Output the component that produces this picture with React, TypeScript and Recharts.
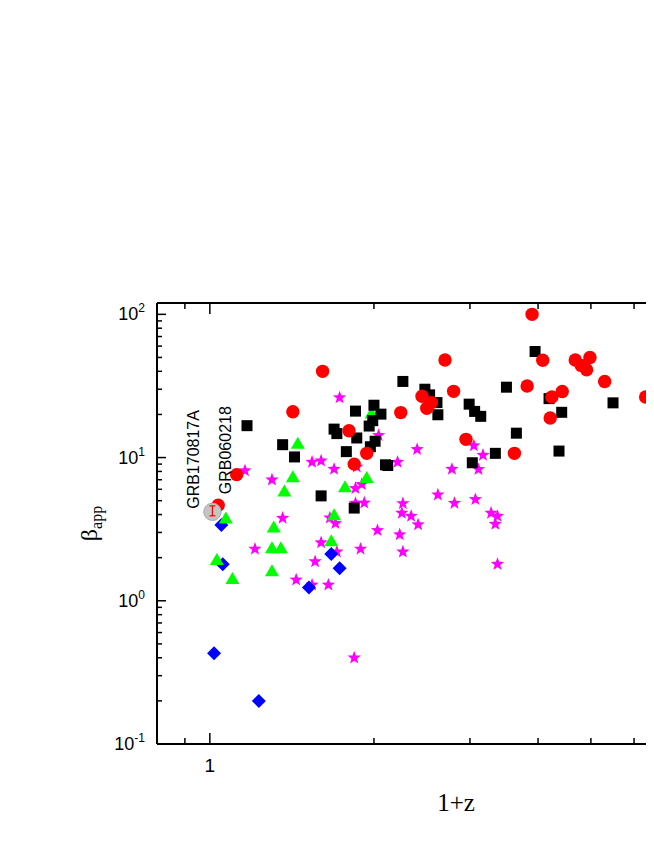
import { ScatterChart, Scatter, XAxis, YAxis, ErrorBar, ReferenceDot } from "recharts";

// [1+z, beta_app]
const redCircles: [number, number][] = [
  [3.9, 100], [1.61, 40], [2.7, 48], [4.08, 47.8], [4.68, 48], [4.8, 44], [4.91, 41],
  [4.98, 50], [5.3, 34], [6.3, 26.5], [2.8, 29], [3.82, 31.6], [4.24, 26.5], [4.43, 28.9],
  [4.21, 18.9], [2.45, 26.8], [2.55, 24.2], [2.5, 22.1], [1.42, 20.9], [2.24, 20.6],
  [1.8, 15.4], [2.95, 13.4], [1.94, 10.7], [3.62, 10.7], [1.84, 9.0], [1.12, 7.6], [1.036, 4.65],
];

const blackSquares: [number, number][] = [
  [3.95, 55], [2.26, 34], [3.5, 31], [2.48, 30], [2.53, 27.4], [2.61, 24.2], [2.62, 19.9],
  [4.19, 25.8], [5.49, 24.1], [4.42, 20.7], [2.99, 23.6], [3.06, 21.0], [3.14, 19.4],
  [2.0, 23.2], [1.85, 21.1], [2.06, 20.1], [1.99, 18.1], [1.96, 16.6], [1.17, 16.7],
  [1.69, 15.8], [1.71, 14.7], [1.86, 13.7], [2.01, 13.0], [1.97, 11.9], [3.65, 14.8],
  [1.36, 12.3], [1.78, 11.0], [1.43, 10.1], [4.37, 11.1], [3.34, 10.7], [3.03, 9.2],
  [2.1, 8.9], [2.12, 8.8], [1.6, 5.4], [1.84, 4.44],
];

const greenTriangles: [number, number][] = [
  [1.45, 12.5], [1.98, 20.3], [1.42, 7.3], [1.37, 5.8], [1.77, 6.2], [1.94, 7.2],
  [1.07, 3.75], [1.69, 3.95], [1.31, 3.25], [1.3, 2.33], [1.35, 2.33], [1.67, 2.6],
  [1.03, 1.93], [1.3, 1.61], [1.1, 1.42],
];

const blueDiamonds: [number, number][] = [
  [1.05, 3.38], [1.056, 1.8], [1.67, 2.12], [1.73, 1.69], [1.52, 1.24], [1.018, 0.43], [1.23, 0.2],
];

const magentaStars: [number, number][] = [
  [1.73, 26.2], [2.04, 14.3], [2.4, 11.4], [3.05, 12.1], [3.17, 10.4], [2.21, 9.3],
  [1.54, 9.3], [1.6, 9.5], [1.69, 8.3], [2.78, 8.3], [3.11, 8.27], [1.86, 8.6], [1.16, 8.1],
  [1.3, 7.0], [1.85, 6.1], [1.9, 6.5], [1.85, 4.8], [1.92, 4.83], [2.62, 5.5], [2.81, 4.8],
  [3.07, 5.1], [2.26, 4.78], [2.25, 4.1], [2.34, 3.9], [2.41, 3.4], [3.28, 4.1], [3.37, 3.9],
  [3.34, 3.43], [3.37, 1.8], [2.03, 3.1], [2.23, 2.9], [2.26, 2.2], [1.89, 2.3], [1.71, 2.2],
  [1.6, 2.55], [1.56, 1.88], [1.36, 3.78], [1.21, 2.3], [1.44, 1.4], [1.54, 1.29],
  [1.65, 1.29], [1.7, 3.47], [1.84, 0.4], [1.66, 3.8],
];

// GRB170817A with its error bar [minus, plus]
const grb170817a = [{ x: 1.011, y: 4.18, err: [0.26, 0.42] }];
const grb060218 = { x: 1.036, y: 4.65 };

const xTicks = [0.9, 1, 2, 3, 4, 5, 6, 7, 8, 9, 10];
const xLabelled = [1];
const yTicks = [
  0.1, 0.2, 0.3, 0.4, 0.5, 0.6, 0.7, 0.8, 0.9,
  1, 2, 3, 4, 5, 6, 7, 8, 9,
  10, 20, 30, 40, 50, 60, 70, 80, 90, 100,
];
const yMajor = [0.1, 1, 10, 100];

const rows = (pts: [number, number][]) => pts.map(([x, y]) => ({ x, y }));

const sans = "'Liberation Sans', Arial, sans-serif";
const serif = "'Liberation Serif', 'Times New Roman', serif";

const Circle = (p: any) => <circle cx={p.cx} cy={p.cy} r={6.7} fill="#ff0000" />;
const Square = (p: any) => <rect x={p.cx - 5.5} y={p.cy - 5.5} width={11} height={11} fill="#000" />;
const Triangle = (p: any) => (
  <polygon points={`${p.cx},${p.cy - 7} ${p.cx - 7},${p.cy + 5} ${p.cx + 7},${p.cy + 5}`} fill="#00ff00" />
);
const Diamond = (p: any) => (
  <polygon
    points={`${p.cx},${p.cy - 7} ${p.cx + 7},${p.cy} ${p.cx},${p.cy + 7} ${p.cx - 7},${p.cy}`}
    fill="#0000ff"
  />
);
const Star = (p: any) => {
  const pts: string[] = [];
  for (let i = 0; i < 10; i++) {
    const r = i % 2 === 0 ? 7 : 2.9;
    const a = -Math.PI / 2 + (i * Math.PI) / 5;
    pts.push(`${p.cx + r * Math.cos(a)},${p.cy + r * Math.sin(a)}`);
  }
  return <polygon points={pts.join(" ")} fill="#ff00ff" />;
};
const Gray = (p: any) => <circle cx={p.cx} cy={p.cy} r={8.7} fill="#c4c4c4" stroke="#aaaaaa" strokeWidth={1} />;

const BottomTick = (p: any) => {
  const v = p.payload.value;
  const major = v === 1 || v === 10;
  return (
    <g>
      <line x1={p.x} x2={p.x} y1={p.y} y2={p.y - (major ? 11 : 6)} stroke="#000" strokeWidth={1.5} />
      {xLabelled.includes(v) && (
        <text x={p.x} y={p.y + 28} textAnchor="middle" fontFamily={sans} fontSize={19} fill="#000">
          {v}
        </text>
      )}
    </g>
  );
};

const TopTick = (p: any) => {
  const major = p.payload.value === 1 || p.payload.value === 10;
  return <line x1={p.x} x2={p.x} y1={p.y} y2={p.y + (major ? 11 : 6)} stroke="#000" strokeWidth={1.5} />;
};

const LeftTick = (p: any) => {
  const v = p.payload.value;
  const major = yMajor.includes(v);
  const exp = Math.round(Math.log10(v));
  return (
    <g>
      <line x1={p.x} x2={p.x + (major ? 9 : 5)} y1={p.y} y2={p.y} stroke="#000" strokeWidth={1.5} />
      {major && (
        <text x={p.x - 12} y={p.y + 6} textAnchor="end" fontFamily={sans} fontSize={18} fill="#000">
          10
          <tspan dy={-8} fontSize={12}>
            {exp}
          </tspan>
        </text>
      )}
    </g>
  );
};

const RightTick = (p: any) => {
  const major = yMajor.includes(p.payload.value);
  return <line x1={p.x} x2={p.x - (major ? 9 : 5)} y1={p.y} y2={p.y} stroke="#000" strokeWidth={1.5} />;
};

const YLabel = (p: any) => {
  const vb = p.viewBox;
  const x = vb.x;
  const cy = vb.y + vb.height / 2;
  return (
    <text
      x={x}
      y={cy}
      transform={`rotate(-90 ${x} ${cy})`}
      textAnchor="middle"
      fontFamily={serif}
      fontSize={24}
      fill="#000"
    >
      β
      <tspan dy={5} fontSize={16}>
        app
      </tspan>
    </text>
  );
};

const XLabel = (p: any) => {
  const vb = p.viewBox;
  return (
    <text x={vb.x + vb.width / 2} y={vb.y + 67} textAnchor="middle" fontFamily={serif} fontSize={25} fill="#000">
      1+z
    </text>
  );
};

const rotatedText = (label: string, dx: number, dy: number) => (p: any) => {
  const x = p.cx + dx;
  const y = p.cy + dy;
  return (
    <text x={x} y={y} transform={`rotate(-90 ${x} ${y})`} fontFamily={sans} fontSize={16} fill="#000">
      {label}
    </text>
  );
};

export default function App() {
  const axisLine = { stroke: "#000", strokeWidth: 2 };
  return (
    <div style={{ width: 646, overflow: "hidden" }}>
      <ScatterChart width={780} height={830} margin={{ top: 285, right: 23, bottom: 34, left: 89 }}>
        <XAxis
          xAxisId="b"
          dataKey="x"
          type="number"
          scale="log"
          domain={[0.8, 10]}
          allowDataOverflow
          ticks={xTicks}
          interval={0}
          tick={BottomTick}
          tickLine={false}
          tickSize={0}
          tickMargin={0}
          axisLine={axisLine}
          height={60}
          label={{ content: XLabel }}
        />
        <XAxis
          xAxisId="t"
          dataKey="x"
          type="number"
          scale="log"
          orientation="top"
          domain={[0.8, 10]}
          allowDataOverflow
          ticks={xTicks}
          interval={0}
          tick={TopTick}
          tickLine={false}
          tickSize={0}
          tickMargin={0}
          axisLine={axisLine}
          height={10}
        />
        <YAxis
          yAxisId="l"
          dataKey="y"
          type="number"
          scale="log"
          domain={[0.1, 120]}
          allowDataOverflow
          ticks={yTicks}
          interval={0}
          tick={LeftTick}
          tickLine={false}
          tickSize={0}
          tickMargin={0}
          axisLine={axisLine}
          width={60}
          label={{ content: YLabel }}
        />
        <YAxis
          yAxisId="r"
          dataKey="y"
          type="number"
          scale="log"
          orientation="right"
          domain={[0.1, 120]}
          allowDataOverflow
          ticks={yTicks}
          interval={0}
          tick={RightTick}
          tickLine={false}
          tickSize={0}
          tickMargin={0}
          axisLine={axisLine}
          width={10}
        />
        <Scatter xAxisId="b" yAxisId="l" data={rows(magentaStars)} shape={Star} isAnimationActive={false} />
        <Scatter xAxisId="b" yAxisId="l" data={rows(blueDiamonds)} shape={Diamond} isAnimationActive={false} />
        <Scatter xAxisId="b" yAxisId="l" data={rows(greenTriangles)} shape={Triangle} isAnimationActive={false} />
        <Scatter xAxisId="b" yAxisId="l" data={rows(blackSquares)} shape={Square} isAnimationActive={false} />
        <Scatter xAxisId="b" yAxisId="l" data={rows(redCircles)} shape={Circle} isAnimationActive={false} />
        <Scatter xAxisId="b" yAxisId="l" data={grb170817a} shape={Gray} isAnimationActive={false}>
          <ErrorBar
            dataKey="err"
            direction="y"
            stroke="#ff0000"
            width={3}
            strokeWidth={1.2}
            isAnimationActive={false}
            zIndex={1000}
          />
        </Scatter>
        <ReferenceDot
          xAxisId="b"
          yAxisId="l"
          x={grb170817a[0].x}
          y={grb170817a[0].y}
          shape={rotatedText("GRB170817A", -13.5, -3)}
        />
        <ReferenceDot
          xAxisId="b"
          yAxisId="l"
          x={grb060218.x}
          y={grb060218.y}
          shape={rotatedText("GRB060218", 12.7, -11)}
        />
      </ScatterChart>
    </div>
  );
}
